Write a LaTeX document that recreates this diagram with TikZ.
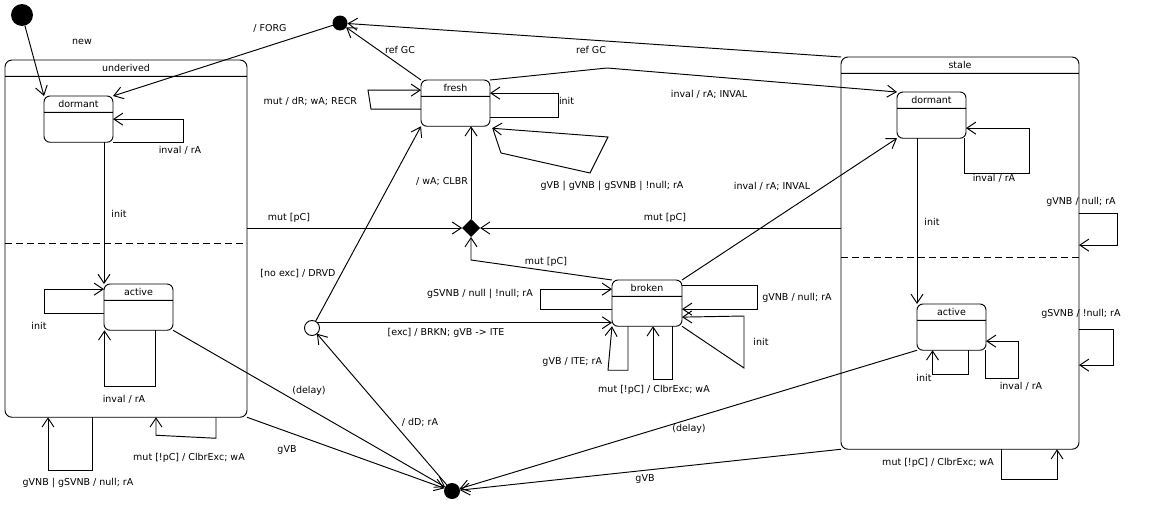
\documentclass[tikz,border=0pt]{standalone}
\usepackage{fontspec}
\setmainfont{DejaVu Sans}
\usetikzlibrary{arrows.meta,shapes.multipart,shapes.geometric}

\begin{document}
\begin{tikzpicture}[x=1pt, y=-1pt, line width=0.95pt, font=\fontsize{9.5}{11}\selectfont]
        \tikzstyle{every node}=[outer sep=0pt]
        \tikzstyle{state}=[draw, rounded corners=6pt, rectangle split, rectangle split parts=2, anchor=north west, inner xsep=2pt, inner ysep=4pt, minimum width=69pt, rectangle split empty part height=21pt]
        \tikzstyle{region}=[state, rounded corners=7pt]
        \tikzstyle{blob}=[circle, fill, inner sep=0pt, minimum size=15pt]
        \tikzstyle{choice}=[diamond, fill, inner sep=0pt, minimum size=18pt]
        \tikzstyle{cond}=[circle, draw, inner sep=0pt, minimum size=15pt]
        \tikzstyle{lbl}=[inner sep=1pt]
        \tikzstyle{tr}=[-{Straight Barb[length=9pt,width=12pt]}]
        \useasboundingbox (0,0) rectangle (1160,506);
        \node[region, minimum width=242pt, rectangle split empty part height=332pt] (under) at (5,60) {underived};
        \node[region, minimum width=238pt, rectangle split empty part height=367pt] (stale) at (841,57) {stale};
        \node[state] (ldorm) at (44,96) {dormant};
        \node[state] (lact) at (104,284) {active};
        \node[state] (fresh) at (421,80) {fresh};
        \node[state, minimum width=70pt] (broken) at (612,280) {broken};
        \node[state] (sdorm) at (897,92) {dormant};
        \node[state] (sact) at (917,304) {active};
        \node[blob, minimum size=22pt] (init) at (22,15) {};
        \node[blob] (gc) at (340,23) {};
        \node[blob, minimum size=16pt] (sink) at (452,491) {};
        \node[choice] (junc) at (471,228) {};
        \node[cond] (guard) at (312,328) {};
        \draw[dash pattern=on 7pt off 4pt] (under.west |- 0,243) -- (under.east |- 0,243);
        \draw[dash pattern=on 7pt off 4pt] (stale.west |- 0,257) -- (stale.east |- 0,257);

        \draw[tr] (init) -- (ldorm.north west);
        \draw[tr] (gc) -- (ldorm.north east);
        \draw[tr] (fresh.north west) -- (gc);
        \draw[tr] (stale.north west) -- (gc);
        \draw[tr] (fresh.north east) -- (607,68) -- (sdorm.north west);
        \draw[tr] (ldorm.south east) -- ++(70,0) |- (ldorm.east);
        \draw[tr] (lact.north west |- ldorm.south) -- (lact.north west);
        \draw[tr] ([yshift=-6pt]lact.west) -- ++(-60,0) |- ([yshift=18pt]lact.west);
        \draw[tr] ([xshift=17pt]lact.south) -- ++(0,56) -| ([xshift=-34pt]lact.south);
        \draw[tr] ([xshift=-34pt]under.south) -- ++(0,53) -| ([xshift=-78pt]under.south);
        \draw[tr] ([xshift=90pt]under.south) -- ++(0,21) -- ++(-60,-3) -- ([xshift=30pt]under.south);
        \draw[tr] (under.east |- junc) -- (junc);
        \draw[tr] (stale.west |- junc) -- (junc);
        \draw[tr] (junc) -- (junc |- fresh.south);
        \draw[tr] (broken.north west) -- (junc |- 0,260) -- (junc);
        \draw[tr] ([yshift=-6pt]fresh.west) -- ++(-50,0) -- ++(-3,-19) -- ([yshift=13pt]fresh.west);
        \draw[tr] ([yshift=-14pt]fresh.east) -- ++(68,0) |- ([yshift=10pt]fresh.east);
        \draw[tr] ([shift={(3pt,-3pt)}]fresh.south east) -- (501,153) -- (590,173) -- (608,137) -- ([shift={(2pt,-2pt)}]fresh.south east);
        \draw[tr] (guard) -- (fresh.south west);
        \draw[tr] (guard.north east) -- (broken.west |- guard.north east);
        \draw[tr] (sink) -- (guard);
        \draw[tr] (lact.south east) -- (sink);
        \draw[tr] (under.south east) -- (sink);
        \draw[tr] (sact.south west) -- (sink);
        \draw[tr] (stale.south west) -- (sink);
        \draw[tr] (broken.north east) -- (sdorm.south west);
        \draw[tr] ([yshift=-6pt]broken.west) -- ++(-72,0) |- ([yshift=14pt]broken.west);
        \draw[tr] ([yshift=18pt]broken.east) -- ++(75,0) |- ([yshift=-6pt]broken.east);
        \draw[tr] (broken.south east) -- (744,368) -- (744,316) -- ([yshift=-14pt]broken.east);
        \draw[tr] ([xshift=-19pt]broken.south) -- ++(0,44) -- ++(-20,0) -- (broken.south west);
        \draw[tr] ([xshift=25pt]broken.south) -- ++(0,53) -| ([xshift=6pt]broken.south);
        \draw[tr] ([xshift=-2pt]sdorm.south east) -- ++(0,35) -- ++(65,0) |- ([yshift=-13pt]sdorm.east);
        \draw[tr] (sact.north west |- sdorm.south) -- (sact.north west);
        \draw[tr] ([xshift=17pt]sact.south) -- ++(0,24) -| ([xshift=-19pt]sact.south);
        \draw[tr] ([xshift=-1pt]sact.south east) -- ++(0,28) -- ++(33,0) |- ([yshift=-14pt]sact.east);
        \draw[tr] ([yshift=40pt]stale.east) -- ++(38,0) |- ([yshift=8pt]stale.east);
        \draw[tr] ([yshift=-76pt]stale.east) -- ++(34,0) |- ([yshift=-112pt]stale.east);
        \draw[tr] ([xshift=41pt]stale.south) -- ++(0,30) -| ([xshift=97pt]stale.south);

        \node[lbl] (lnew) at (82,42) {new};
        \node[lbl] (lforg) at (270,28) {/ FORG};
        \node[lbl] (lref1) at (400,50) {ref GC};
        \node[lbl] (lref2) at (591,50) {ref GC};
        \node[lbl] (linv1) at (180,150) {inval / rA};
        \node[lbl] (linit1) at (119,214) {init};
        \node[lbl] (linit2) at (39,326) {init};
        \node[lbl] (linv2) at (124,399) {inval / rA};
        \node[lbl] (lnull1) at (78,483) {gVNB | gSVNB / null; rA};
        \node[lbl] (lclbr1) at (189,458) {mut [!pC] / ClbrExc; wA};
        \node[lbl] (lpc1) at (289,218) {mut [pC]};
        \node[lbl] (lpc2) at (665,218) {mut [pC]};
        \node[lbl] (lclbr) at (442,182) {/ wA; CLBR};
        \node[lbl] (lpc3) at (546,262) {mut [pC]};
        \node[lbl] (lnull2) at (480,294) {gSVNB / null | !null; rA};
        \node[lbl] (ldrvd) at (298,274) {[no exc] / DRVD};
        \node[lbl] (lbrkn) at (446,333) {[exc] / BRKN; gVB -> ITE};
        \node[lbl] (linval1) at (709,94) {inval / rA; INVAL};
        \node[lbl, anchor=east] (lrecr) at (358,101) {mut / dR; wA; RECR};
        \node[lbl, anchor=west] (linit3) at (558,101) {init};
        \node[lbl] (lnull3) at (612,186) {gVB | gVNB | gSVNB | !null; rA};
        \node[lbl] (linval2) at (772,186) {inval / rA; INVAL};
        \node[lbl] (lnull4) at (797,298) {gVNB / null; rA};
        \node[lbl] (linit4) at (761,342) {init};
        \node[lbl, anchor=east] (lite) at (603,362) {gVB / ITE; rA};
        \node[lbl] (lclbr2) at (654,390) {mut [!pC] / ClbrExc; wA};
        \node[lbl] (ldd) at (420,422) {/ dD; rA};
        \node[lbl] (ldelay1) at (309,391) {(delay)};
        \node[lbl] (lgvb1) at (287,450) {gVB};
        \node[lbl] (ldelay2) at (689,429) {(delay)};
        \node[lbl] (lgvb2) at (645,479) {gVB};
        \node[lbl] (linv3) at (994,178) {inval / rA};
        \node[lbl] (linit5) at (932,222) {init};
        \node[lbl] (linit6) at (924,378) {init};
        \node[lbl] (linv4) at (1021,386) {inval / rA};
        \node[lbl] (lnull5) at (1081,202) {gVNB / null; rA};
        \node[lbl] (lnull6) at (1081,314) {gSVNB / !null; rA};
        \node[lbl] (lclbr3) at (938,463) {mut [!pC] / ClbrExc; wA};
    \end{tikzpicture}
\end{document}
